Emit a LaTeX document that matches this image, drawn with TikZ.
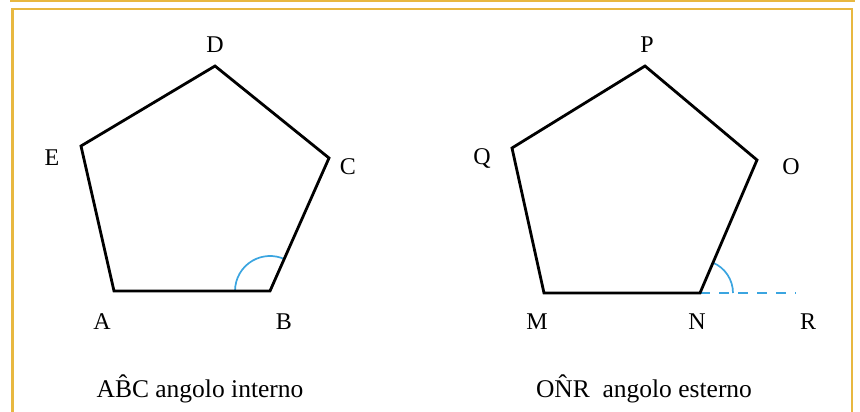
\documentclass[tikz,border=0pt]{standalone}
\usepackage{fontspec}
\setmainfont{Liberation Serif}
\definecolor{framecol}{RGB}{232,184,64}
\definecolor{anglecol}{RGB}{59,165,224}
\begin{document}
\begin{tikzpicture}[x=1pt,y=-1pt,
  frameline/.style={draw=framecol,line width=2.8pt},
  poly/.style={draw=black,line width=2.8pt,line join=miter},
  anglearc/.style={draw=anglecol,line width=1.7pt},
  extline/.style={draw=anglecol,line width=2.4pt,dash pattern=on 10pt off 9pt},
  vlabel/.style={font=\fontsize{24}{28}\selectfont,inner sep=0pt},
  caption/.style={font=\fontsize{25.5}{30}\selectfont,inner sep=0pt,anchor=base}]
\useasboundingbox (0,0) rectangle (860,412);
% frames
\draw[frameline] (11.5,-5) -- (11.5,1) -- (853.5,1) -- (853.5,-5);
\draw[frameline] (12.3,413) -- (12.3,9) -- (852,9) -- (852,413);
% left pentagon
\coordinate (A) at (114,291);
\coordinate (B) at (270,291);
\coordinate (C) at (329,158);
\coordinate (D) at (215,66);
\coordinate (E) at (81,146);
\draw[anglearc] ([shift={(180:35)}]B) arc[start angle=180,end angle=294,radius=35];
\draw[poly] (A) -- (B) -- (C) -- (D) -- (E) -- cycle;
% right pentagon
\coordinate (M) at (544,293);
\coordinate (N) at (700,293);
\coordinate (O) at (757,160);
\coordinate (P) at (645,66);
\coordinate (Q) at (512,148);
\coordinate (R) at (796,293);
\draw[extline] (N) -- (R);
\draw[anglearc] ([shift={(0:33)}]N) arc[start angle=0,end angle=-67,radius=33];
\draw[poly] (M) -- (N) -- (O) -- (P) -- (Q) -- cycle;
% vertex labels
\node[vlabel] (lD) at (215,45) {D};
\node[vlabel] (lE) at (52,158) {E};
\node[vlabel] (lC) at (348,167) {C};
\node[vlabel] (lA) at (102,322) {A};
\node[vlabel] (lB) at (284,322) {B};
\node[vlabel] (lP) at (647,45) {P};
\node[vlabel] (lQ) at (482,158) {Q};
\node[vlabel] (lO) at (791,167) {O};
\node[vlabel] (lM) at (537,322) {M};
\node[vlabel] (lN) at (697,322) {N};
\node[vlabel] (lR) at (808,322) {R};
% captions
\node[caption] (capL) at (200,397) {A\^{B}C angolo interno};
\node[caption] (capR) at (644,397) {O\^{N}R\ \ angolo esterno};
\end{tikzpicture}
\end{document}
